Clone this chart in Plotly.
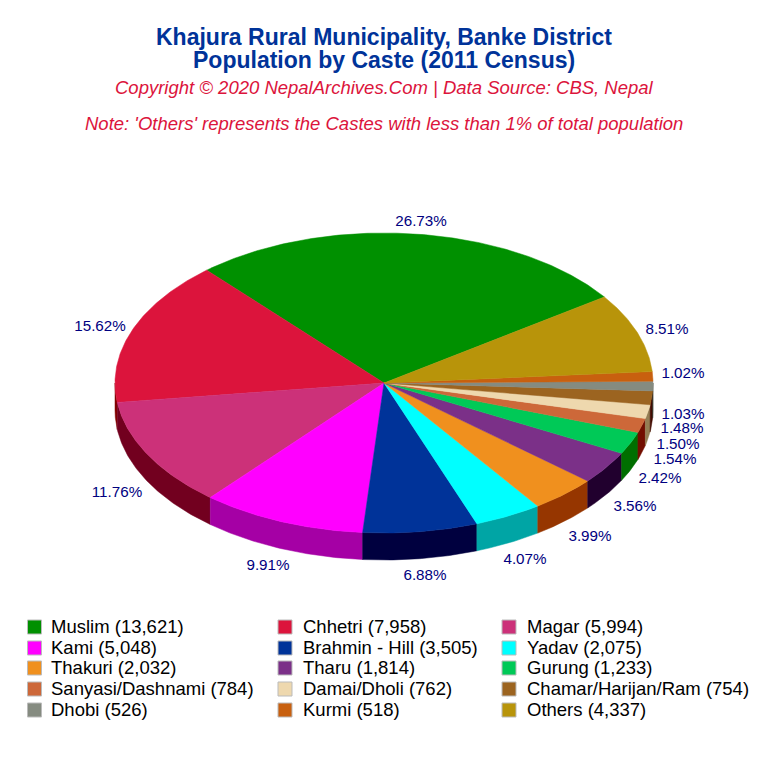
import math
import plotly.graph_objects as go

castes = ["Muslim", "Chhetri", "Magar", "Kami", "Brahmin - Hill", "Yadav", "Thakuri", "Tharu",
          "Gurung", "Sanyasi/Dashnami", "Damai/Dholi", "Chamar/Harijan/Ram", "Dhobi", "Kurmi", "Others"]
population = [13621, 7958, 5994, 5048, 3505, 2075, 2032, 1814, 1233, 784, 762, 754, 526, 518, 4337]
colors = ["#009000", "#DC143C", "#CC3179", "#FF00FF", "#003399", "#00FFFF", "#F0901E", "#7B3088",
          "#00C957", "#CD6839", "#EED8AE", "#9C6420", "#858B80", "#C8600F", "#B8940A"]
label_centres = [(421, 222), (100, 327), (117, 493), (268, 566), (425, 576), (525, 560), (590, 537), (635, 507),
                 (660, 479), (675, 460), (678, 445), (682, 429), (683, 415), (683, 374), (667, 330)]

CX, CY, RX, RY, DEPTH = 384, 383, 269, 150, 27
START = 55.0
SHADE = 90
total = sum(population)


def pt(theta, dy=0):
    r = math.radians(theta)
    return CX + RX * math.sin(r), CY - RY * math.cos(r) + dy


def darker(c):
    v = [max(0, int(c[i:i + 2], 16) - SHADE) for i in (1, 3, 5)]
    return "rgb(%d,%d,%d)" % tuple(v)


def arc(a, b):
    n = max(2, int(abs(b - a) * 2))
    return [a + (b - a) * i / n for i in range(n + 1)]


fig = go.Figure()
tops = []
theta = START
for name, v, c in zip(castes, population, colors):
    end = theta - v / total * 360
    # side wall: the part of the rim facing the viewer (90..270 deg, modulo 360)
    for shift in (0, 360):
        hi = min(theta + shift, 270)
        lo = max(end + shift, 90)
        if hi > lo:
            angs = arc(hi, lo)
            up = [pt(t) for t in angs]
            dn = [pt(t, DEPTH) for t in reversed(angs)]
            poly = up + dn + up[:1]
            fig.add_trace(go.Scatter(x=[p[0] for p in poly], y=[p[1] for p in poly], mode="lines",
                                     fill="toself", fillcolor=darker(c),
                                     line=dict(color=darker(c), width=0.5), hoverinfo="skip"))
    rim = [pt(t) for t in arc(theta, end)]
    poly = [(CX, CY)] + rim + [(CX, CY)]
    tops.append(go.Scatter(x=[p[0] for p in poly], y=[p[1] for p in poly], mode="lines",
                           fill="toself", fillcolor=c, line=dict(color=c, width=0.5), hoverinfo="skip"))
    theta = end
for t in tops:
    fig.add_trace(t)

fig.add_trace(go.Scatter(
    x=[p[0] for p in label_centres], y=[p[1] for p in label_centres], mode="text",
    text=["%.2f%%" % (v / total * 100) for v in population], textposition="middle center",
    textfont=dict(family="Liberation Sans", size=15.2, color="#000080"), cliponaxis=False, hoverinfo="skip"))

col_swatch = [34.5, 285, 509]
col_text = [51, 303, 527]
row_y = [627, 648, 668, 689, 710]
text_dy = 1
for i, (name, v, c) in enumerate(zip(castes, population, colors)):
    col, row = i % 3, i // 3
    fig.add_trace(go.Scatter(x=[col_swatch[col]], y=[row_y[row]], mode="markers",
                             marker=dict(symbol="square", size=14, color=c, line=dict(color="#BBBBBB", width=1)),
                             hoverinfo="skip", cliponaxis=False))
    fig.add_trace(go.Scatter(x=[col_text[col]], y=[row_y[row] + text_dy], mode="text",
                             text=[f"{name} ({v:,})"], textposition="middle right",
                             textfont=dict(family="Liberation Sans", size=18.5, color="#000000"),
                             hoverinfo="skip", cliponaxis=False))

titles = [("Khajura Rural Municipality, Banke District", 37, 23, "#003399", "<b>%s</b>"),
          ("Population by Caste (2011 Census)", 60, 23, "#003399", "<b>%s</b>"),
          ("Copyright © 2020 NepalArchives.Com | Data Source: CBS, Nepal", 87, 18.5, "#DC143C", "<i>%s</i>"),
          ("Note: 'Others' represents the Castes with less than 1% of total population", 123.5, 18.5, "#DC143C", "<i>%s</i>")]
annotations = [dict(x=384, y=y, xref="x", yref="y", text=fmt % t, showarrow=False, xanchor="center", yanchor="middle",
                    font=dict(family="Liberation Sans", size=s, color=col)) for t, y, s, col, fmt in titles]

fig.update_layout(width=768, height=768, margin=dict(l=0, r=0, t=0, b=0), showlegend=False,
                  paper_bgcolor="white", plot_bgcolor="white", annotations=annotations,
                  xaxis=dict(range=[0, 768], visible=False, fixedrange=True),
                  yaxis=dict(range=[768, 0], visible=False, fixedrange=True))
fig.write_html("out.html", config={"displayModeBar": False},
               post_script="document.body.style.margin='0';document.body.style.overflow='hidden';")
